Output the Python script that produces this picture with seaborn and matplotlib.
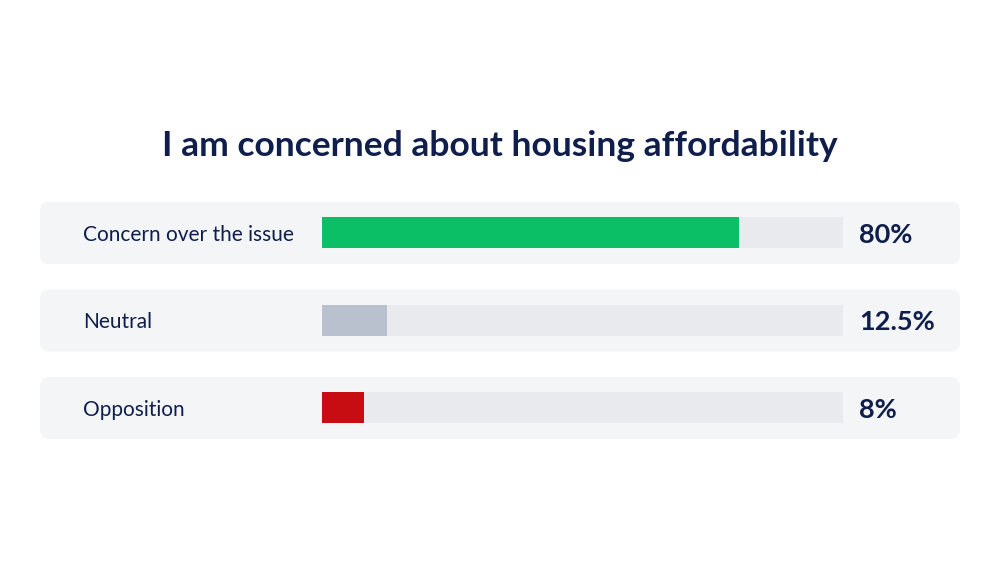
import seaborn as sns
import matplotlib.pyplot as plt
import pandas as pd
from matplotlib.patches import FancyBboxPatch
from matplotlib.transforms import blended_transform_factory, offset_copy

###~~~~~~~~~~~~~~~~~~~~~~~~~~~~~~~~~~~~~~~~~~~~~~~~~~~~~~~~~~~~~~~~~~~~~~~~~~~~
# chart data
title = "I am concerned about housing affordability"
categories = ["Concern over the issue", "Neutral", "Opposition"]
values = [80, 12.5, 8]
value_labels = ["80%", "12.5%", "8%"]
bar_colors = ["#0bbf66", "#b9c1ce", "#c70d12"]

navy = "#0f1e4b"
card_color = "#f3f5f7"
track_color = "#e8eaed"

sns.set_theme(style="white")
plt.rcParams['font.family'] = ['Lato', 'DejaVu Sans']

fig = plt.figure(figsize=(10, 5.63), dpi=100)
fig.patch.set_facecolor("white")

# background axes in pixel coordinates, used for the cards and text placement
bg = fig.add_axes([0, 0, 1, 1])
bg.set_xlim(0, 1000)
bg.set_ylim(563, 0)
bg.axis("off")

# main axes covers the bar tracks
ax = fig.add_axes([0.322, 1 - 451.5 / 563, 0.521, 262.5 / 563])

df = pd.DataFrame({"category": categories, "value": values})
track = pd.DataFrame({"category": categories, "value": [100] * len(categories)})

sns.barplot(data=track, x="value", y="category", color=track_color,
            width=0.354, ax=ax, saturation=1, linewidth=0)
sns.barplot(data=df, x="value", y="category", hue="category",
            palette=bar_colors, width=0.354, ax=ax, saturation=1,
            legend=False, linewidth=0)

ax.set_xlim(0, 100)
ax.set_ylim(2.5, -0.5)
ax.axis("off")
ax.set_facecolor("none")

# rounded cards behind each row
for i in range(len(categories)):
    yc = 233 + i * 87.5
    card = FancyBboxPatch((40, yc - 31), 920, 62,
                          boxstyle="round,pad=0,rounding_size=9",
                          facecolor=card_color, edgecolor="none", zorder=0)
    bg.add_patch(card)

# x in figure pixels, y in category units, nudged down a touch
trans = blended_transform_factory(bg.transData, ax.transData)
trans = offset_copy(trans, fig=fig, y=-1.5, units="points")
for i, (cat, lab) in enumerate(zip(categories, value_labels)):
    ax.text(83, i, cat, transform=trans, ha="left", va="center",
            fontsize=15, color=navy)
    ax.text(859, i, lab, transform=trans, ha="left", va="center",
            fontsize=19.5, fontweight="bold", color=navy)

bg.text(500, 146, title, ha="center", va="center", fontsize=25.5,
        fontweight="bold", color=navy)

fig.savefig("out.png", dpi=100, facecolor="white")
